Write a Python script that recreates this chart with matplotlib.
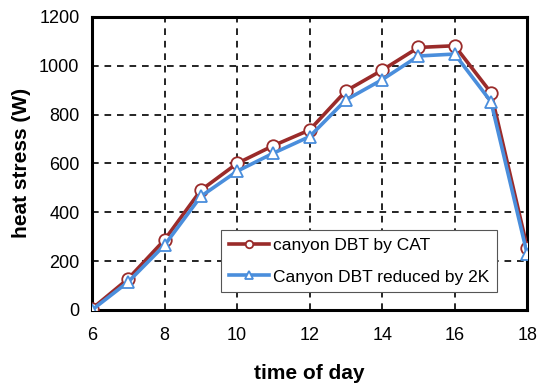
import numpy as np
import matplotlib.pyplot as plt

plt.rcParams['font.family'] = ['Liberation Sans', 'DejaVu Sans']

# data
hours = [6, 7, 8, 9, 10, 11, 12, 13, 14, 15, 16, 17, 18]
cat_stress = [5, 128, 287, 490, 600, 673, 737, 897, 982, 1075, 1082, 890, 255]
reduced_stress = [0, 115, 265, 465, 568, 642, 710, 860, 943, 1040, 1048, 853, 228]

fig = plt.figure(figsize=(5.38, 3.85), dpi=100)
ax = fig.add_axes([0.171, 0.195, 0.809, 0.761])

ax.plot(hours, cat_stress, color='#9a2b2a', lw=2.6, marker='o', ms=9,
        mfc='white', mec='#9a2b2a', mew=1.3, label='canyon DBT by CAT', zorder=3)
ax.plot(hours, reduced_stress, color='#4a8edc', lw=2.6, marker='^', ms=9,
        mfc='white', mec='#4a8edc', mew=1.3, label='Canyon DBT reduced by 2K', zorder=4)

ax.set_xlim(6, 18)
ax.set_ylim(0, 1200)
ax.set_xticks(np.arange(6, 19, 2))
ax.set_yticks(np.arange(0, 1201, 200))
ax.grid(True, color='black', ls=(0, (4, 3.5)), lw=1.2)
ax.tick_params(length=0, labelsize=13, pad=9)
ax.tick_params(axis='x', pad=12)

for s in ax.spines.values():
    s.set_linewidth(2.2)
    s.set_color('black')

ax.set_xlabel('time of day', fontsize=15, fontweight='bold', labelpad=15)
ax.set_ylabel('heat stress (W)', fontsize=15, fontweight='bold', labelpad=6)

leg = ax.legend(loc='lower right', bbox_to_anchor=(0.93, 0.06), fontsize=12.5,
                fancybox=False, framealpha=1, edgecolor='#555555',
                handlelength=2.3, handletextpad=0.2, markerscale=0.6,
                borderpad=0.45, labelspacing=0.95, borderaxespad=0)
leg.get_frame().set_linewidth(0.8)

fig.savefig('out.png', dpi=100)
